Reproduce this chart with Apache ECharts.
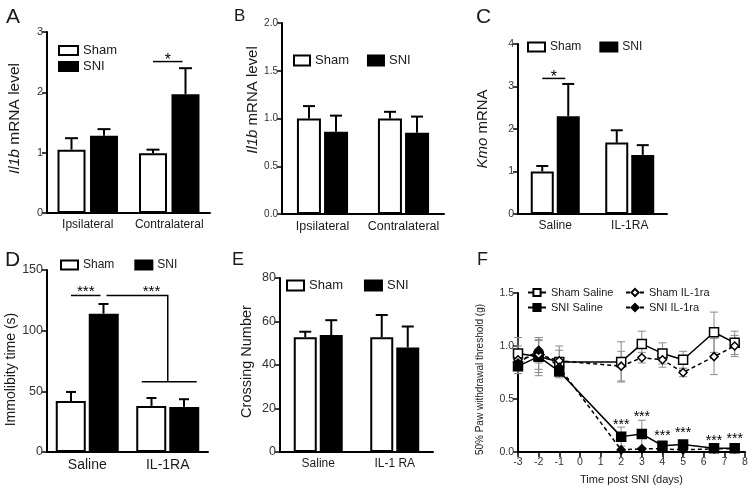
<!DOCTYPE html>
<html><head><meta charset="utf-8">
<script src="https://cdn.jsdelivr.net/npm/echarts@6/dist/echarts.min.js"></script>
<style>html,body{margin:0;padding:0;background:#fff}#c{width:754px;height:493px}</style>
</head><body><div id="c"></div>
<script>
// ---------------- DATA ----------------
const catsA = ['Ipsilateral', 'Contralateral'];
const shamA = [1.05, 0.99];
const shamErrA = [0.19, 0.06];
const sniA = [1.28, 1.97];
const sniErrA = [0.11, 0.43];
const sigA = [[1, 2.51, '*']];

const catsB = ['Ipsilateral', 'Contralateral'];
const shamB = [1.0, 1.0];
const shamErrB = [0.13, 0.07];
const sniB = [0.86, 0.85];
const sniErrB = [0.17, 0.17];

const catsC = ['Saline', 'IL-1RA'];
const shamC = [1.0, 1.68];
const shamErrC = [0.13, 0.29];
const sniC = [2.30, 1.39];
const sniErrC = [0.76, 0.23];
const sigC = [[0, 3.19, '*']];

const catsD = ['Saline', 'IL-1RA'];
const shamD = [42, 38];
const shamErrD = [7.5, 6.5];
const sniD = [114, 37];
const sniErrD = [8, 6.5];
const sigD = [[0, 129, '***']];
const bracketD = [[0, 1, 129, 58, '***']];

const catsE = ['Saline', 'IL-1 RA'];
const shamE = [52.8, 52.8];
const shamErrE = [2.5, 10.2];
const sniE = [53.8, 48.1];
const sniErrE = [6.8, 9.6];

const daysF = [-3, -2, -1, 2, 3, 4, 5, 6.5, 7.5];
const shamSalineF = [0.93, 0.90, 0.85, 0.85, 1.02, 0.93, 0.87, 1.13, 1.03];
const shamSalineErrF = [0.15, 0.18, 0.15, 0.19, 0.12, 0.10, 0.08, 0.19, 0.11];
const sniSalineF = [0.81, 0.90, 0.76, 0.145, 0.17, 0.06, 0.07, 0.035, 0.035];
const sniSalineErrF = [0.07, 0.15, 0.03, 0.09, 0.13, 0.02, 0.02, 0.01, 0.01];
const shamIl1raF = [0.87, 0.92, 0.86, 0.81, 0.89, 0.87, 0.75, 0.90, 1.00];
const shamIl1raErrF = [0.13, 0.14, 0.10, 0.14, 0.05, 0.07, 0.04, 0.17, 0.10];
const sniIl1raF = [0.84, 0.96, 0.80, 0.02, 0.03, 0.03, 0.02, 0.03, 0.03];
const sniIl1raErrF = [0.10, 0.12, 0.05, 0.01, 0.01, 0.01, 0.01, 0.01, 0.01];
const starDaysF = [2, 3, 4, 5, 6.5, 7.5];
const starYF = [0.28, 0.36, 0.18, 0.21, 0.13, 0.15];

// ---------------- BUILD ----------------
const FONT = "'Liberation Sans', Arial, Helvetica, sans-serif";
const TXT = '#1a1a1a';
const grids = [], xAxes = [], yAxes = [], series = [], legends = [], titles = [];

function vAxis(idx, max, interval, name, nameGap, nameSize, fmt, namePad, tickSize) {
  return {
    type: 'value', gridIndex: idx, min: 0, max: max, interval: interval,
    name: name, nameLocation: 'middle', nameGap: nameGap,
    nameTextStyle: { fontSize: nameSize, color: TXT, fontFamily: FONT, padding: namePad || 0,
      rich: { i: { fontStyle: 'italic', fontSize: nameSize, color: TXT, fontFamily: FONT } } },
    axisLine: { show: true, onZero: false, lineStyle: { color: '#000', width: 2 } },
    axisTick: { show: true, length: 5, lineStyle: { color: '#000', width: 1.5 } },
    axisLabel: { fontSize: tickSize || 11, color: '#333', margin: 4, formatter: fmt },
    splitLine: { show: false }
  };
}

function barPanel(idx, box, cats, sham, shamErr, sni, sniErr, cfg) {
  grids.push({ left: box[0], top: box[1], width: box[2], height: box[3] });
  xAxes.push({
    type: 'category', gridIndex: idx, data: cats,
    axisLine: { show: true, onZero: false, lineStyle: { color: '#000', width: 2 } },
    axisTick: { show: false },
    axisLabel: { fontSize: cfg.catSize, color: TXT, margin: 6, interval: 0 }
  });
  yAxes.push(vAxis(idx, cfg.max, cfg.interval, cfg.name, cfg.nameGap, cfg.nameSize, cfg.fmt, cfg.namePad, cfg.tickSize));
  series.push({
    type: 'bar', name: 'Sham', xAxisIndex: idx, yAxisIndex: idx, data: sham,
    barWidth: cfg.bw, barGap: cfg.gap, z: 3,
    itemStyle: { color: '#fff', borderColor: '#000', borderWidth: 2 }
  });
  series.push({
    type: 'bar', name: 'SNI', xAxisIndex: idx, yAxisIndex: idx, data: sni,
    barWidth: cfg.bw, barGap: cfg.gap, z: 3,
    itemStyle: { color: '#000', borderColor: '#000', borderWidth: 2 }
  });
  const errData = sham.map((v, i) => [i, v, shamErr[i], 0])
    .concat(sni.map((v, i) => [i, v, sniErr[i], 1]));
  series.push({
    type: 'custom', name: 'err' + idx, xAxisIndex: idx, yAxisIndex: idx, z: 2,
    data: errData,
    renderItem: function (params, api) {
      const c = api.value(0), v = api.value(1), e = api.value(2), w = api.value(3);
      const p0 = api.coord([c, v]), p1 = api.coord([c, v + e]);
      const x = p0[0] + (w ? 1 : -1) * cfg.off;
      return { type: 'group', children: [
        { type: 'line', shape: { x1: x, y1: p0[1], x2: x, y2: p1[1] }, style: { stroke: '#000', lineWidth: 2 } },
        { type: 'line', shape: { x1: x - cfg.cap, y1: p1[1], x2: x + cfg.cap, y2: p1[1] }, style: { stroke: '#000', lineWidth: 2 } }
      ] };
    }
  });
  legends.push(Object.assign({
    data: ['Sham', 'SNI'], icon: 'rect', padding: 0,
    itemStyle: { borderColor: '#000', borderWidth: 2 },
    textStyle: { fontSize: cfg.legSize, color: TXT, fontFamily: FONT },
    selectedMode: false
  }, cfg.legend));
}

function sigPanel(idx, sig, cfg, fontSize, dy) {
  series.push({
    type: 'custom', name: 'sig' + idx, xAxisIndex: idx, yAxisIndex: idx, z: 4,
    data: sig.map(s => [s[0], s[1]]),
    renderItem: function (params, api) {
      const c = api.value(0), y = api.value(1);
      const p = api.coord([c, y]);
      const x1 = p[0] - cfg.off, x2 = p[0] + cfg.off - 3;
      return { type: 'group', children: [
        { type: 'line', shape: { x1: x1, y1: p[1], x2: x2, y2: p[1] }, style: { stroke: '#000', lineWidth: 1.5 } },
        { type: 'text', style: { text: sig[params.dataIndex][2], x: (x1 + x2) / 2, y: p[1] + dy,
          align: 'center', verticalAlign: 'middle', textAlign: 'center', textVerticalAlign: 'middle',
          fontSize: fontSize, fontFamily: FONT, fill: '#000' } }
      ] };
    }
  });
}

// Panel A
barPanel(0, [47, 32, 163, 181], catsA, shamA, shamErrA, sniA, sniErrA, {
  max: 3, interval: 1, name: '{i|Il1b} mRNA level', nameGap: 24, nameSize: 15.5, namePad: [0, 0, 0, 8],
  tickSize: 11, catSize: 12, bw: 28, gap: '16%', off: 16.25, cap: 6.5, legSize: 13,
  legend: { orient: 'vertical', left: 58, top: 44, itemWidth: 19, itemHeight: 9, itemGap: 3 }
});
sigPanel(0, sigA, { off: 16.25 }, 16, -1);

// Panel B
barPanel(1, [282, 23, 162, 191], catsB, shamB, shamErrB, sniB, sniErrB, {
  max: 2, interval: 0.5, name: '{i|Il1b} mRNA level', nameGap: 18, nameSize: 15, namePad: [0, 0, 0, 37],
  fmt: v => v.toFixed(1), tickSize: 10,
  catSize: 12.5, bw: 24, gap: '13%', off: 13.5, cap: 6, legSize: 13,
  legend: { orient: 'horizontal', left: 293, top: 54, itemWidth: 16, itemHeight: 10, itemGap: 18 }
});

// Panel C
barPanel(2, [518, 44, 149, 170], catsC, shamC, shamErrC, sniC, sniErrC, {
  max: 4, interval: 1, name: '{i|Kmo} mRNA', nameGap: 28, nameSize: 15,
  tickSize: 10.5, catSize: 12, bw: 23, gap: '13%', off: 13, cap: 6, legSize: 12,
  legend: { orient: 'horizontal', left: 527, top: 41, itemWidth: 17, itemHeight: 9, itemGap: 18 }
});
sigPanel(2, sigC, { off: 13 }, 16, -1);

// Panel D
barPanel(3, [47, 270, 161, 182], catsD, shamD, shamErrD, sniD, sniErrD, {
  max: 150, interval: 50, name: 'Immolibity time (s)', nameGap: 27, nameSize: 14, namePad: [0, 17, 0, 0],
  tickSize: 12.5, catSize: 14, bw: 30, gap: '10%', off: 16.25, cap: 5, legSize: 12,
  legend: { orient: 'horizontal', left: 60, top: 259, itemWidth: 17, itemHeight: 9, itemGap: 20 }
});
sigPanel(3, sigD, { off: 16.25 }, 15, -4);
series.push({
  type: 'custom', name: 'bracketD', xAxisIndex: 3, yAxisIndex: 3, z: 4,
  data: bracketD.map(b => [b[0], b[1], b[2], b[3]]),
  renderItem: function (params, api) {
    const off = 16.25;
    const a = api.coord([api.value(0), api.value(2)]);
    const b = api.coord([api.value(1), api.value(3)]);
    const xs = a[0] + off + 3, xe = b[0];
    const ls = { stroke: '#000', lineWidth: 1.5 };
    return { type: 'group', children: [
      { type: 'polyline', shape: { points: [[xs, a[1]], [xe, a[1]], [xe, b[1]]] }, style: Object.assign({ fill: null }, ls) },
      { type: 'line', shape: { x1: xe - 26, y1: b[1], x2: xe + 29, y2: b[1] }, style: ls },
      { type: 'text', style: { text: bracketD[params.dataIndex][4], x: xe - off, y: a[1] - 4,
        align: 'center', verticalAlign: 'middle', textAlign: 'center', textVerticalAlign: 'middle',
        fontSize: 15, fontFamily: FONT, fill: '#000' } }
    ] };
  }
});

// Panel E
barPanel(4, [280, 278, 153, 174], catsE, shamE, shamErrE, sniE, sniErrE, {
  max: 80, interval: 20, name: 'Crossing Number', nameGap: 26, nameSize: 14.5, namePad: [0, 0, 0, 7],
  tickSize: 12.5, catSize: 12, bw: 23, gap: '13%', off: 13, cap: 6, legSize: 13,
  legend: { orient: 'horizontal', left: 286, top: 279, itemWidth: 17, itemHeight: 10, itemGap: 21 }
});

// Panel F
grids.push({ left: 518, top: 293, width: 227, height: 159 });
xAxes.push({
  type: 'value', gridIndex: 5, min: -3, max: 8, interval: 1,
  name: 'Time post SNI (days)', nameLocation: 'middle', nameGap: 22,
  nameTextStyle: { fontSize: 11, color: TXT, fontFamily: FONT },
  axisLine: { show: true, onZero: false, lineStyle: { color: '#000', width: 2 } },
  axisTick: { show: true, length: 5, lineStyle: { color: '#000', width: 1.5 } },
  axisLabel: { fontSize: 10.5, color: '#333', margin: 5 },
  splitLine: { show: false }
});
yAxes.push(vAxis(5, 1.5, 0.5, '50% Paw withdrawal threshold (g)', 33, 10, v => v.toFixed(1), [0, 14, 0, 0], 10.5));

function errF(vals, errs, nm) {
  series.push({
    type: 'custom', name: nm, xAxisIndex: 5, yAxisIndex: 5, z: 2,
    data: daysF.map((d, i) => [d, vals[i], errs[i]]),
    renderItem: function (params, api) {
      const d = api.value(0), v = api.value(1), e = api.value(2);
      const lo = api.coord([d, v - e]), hi = api.coord([d, v + e]);
      const st = { stroke: '#8a8a8a', lineWidth: 1 };
      return { type: 'group', children: [
        { type: 'line', shape: { x1: lo[0], y1: lo[1], x2: hi[0], y2: hi[1] }, style: st },
        { type: 'line', shape: { x1: hi[0] - 4, y1: hi[1], x2: hi[0] + 4, y2: hi[1] }, style: st },
        { type: 'line', shape: { x1: lo[0] - 4, y1: lo[1], x2: lo[0] + 4, y2: lo[1] }, style: st }
      ] };
    }
  });
}
errF(shamSalineF, shamSalineErrF, 'e1');
errF(shamIl1raF, shamIl1raErrF, 'e2');
errF(sniSalineF, sniSalineErrF, 'e3');
errF(sniIl1raF, sniIl1raErrF, 'e4');

function lineF(nm, vals, dashed, sym, fill, size) {
  series.push({
    type: 'line', name: nm, xAxisIndex: 5, yAxisIndex: 5, z: 5,
    data: daysF.map((d, i) => [d, vals[i]]),
    symbol: sym, symbolSize: size, showAllSymbol: true,
    lineStyle: { color: '#000', width: 1.5, type: dashed ? [4, 3] : 'solid' },
    itemStyle: { color: fill, borderColor: '#000', borderWidth: 1.5 },
    emphasis: { disabled: true }
  });
}
lineF('Sham Saline', shamSalineF, false, 'rect', '#fff', 9);
lineF('SNI Saline', sniSalineF, false, 'rect', '#000', 9);
lineF('Sham IL-1ra', shamIl1raF, true, 'diamond', '#fff', 8);
lineF('SNI IL-1ra', sniIl1raF, true, 'diamond', '#000', 8);

series.push({
  type: 'custom', name: 'starsF', xAxisIndex: 5, yAxisIndex: 5, z: 6,
  data: starDaysF.map((d, i) => [d, starYF[i]]),
  renderItem: function (params, api) {
    const p = api.coord([api.value(0), api.value(1)]);
    return { type: 'text', style: { text: '***', x: p[0], y: p[1] + 3,
      align: 'center', verticalAlign: 'middle', textAlign: 'center', textVerticalAlign: 'middle',
      fontSize: 14, fontFamily: FONT, fill: '#000' } };
  }
});

const legF = { orient: 'vertical', top: 287, padding: 0, itemWidth: 18, itemHeight: 9, itemGap: 4,
  textStyle: { fontSize: 11, color: TXT, fontFamily: FONT }, selectedMode: false };
legends.push(Object.assign({ data: ['Sham Saline', 'SNI Saline'], left: 527 }, legF));
legends.push(Object.assign({ data: ['Sham IL-1ra', 'SNI IL-1ra'], left: 625 }, legF));

// Panel letters
[['A', 6, 7, 21], ['B', 234, 8, 17], ['C', 476, 7, 21], ['D', 5, 250, 21], ['E', 232, 251, 18], ['F', 477, 251, 18]].forEach(t => {
  titles.push({ text: t[0], left: t[1], top: t[2], padding: 0,
    textStyle: { fontSize: t[3], fontWeight: 'normal', color: TXT, fontFamily: FONT } });
});

const chart = echarts.init(document.getElementById('c'), null, { renderer: 'canvas' });
chart.setOption({
  animation: false,
  backgroundColor: '#fff',
  textStyle: { fontFamily: FONT },
  title: titles,
  legend: legends,
  grid: grids,
  xAxis: xAxes,
  yAxis: yAxes,
  series: series
});
</script></body></html>
